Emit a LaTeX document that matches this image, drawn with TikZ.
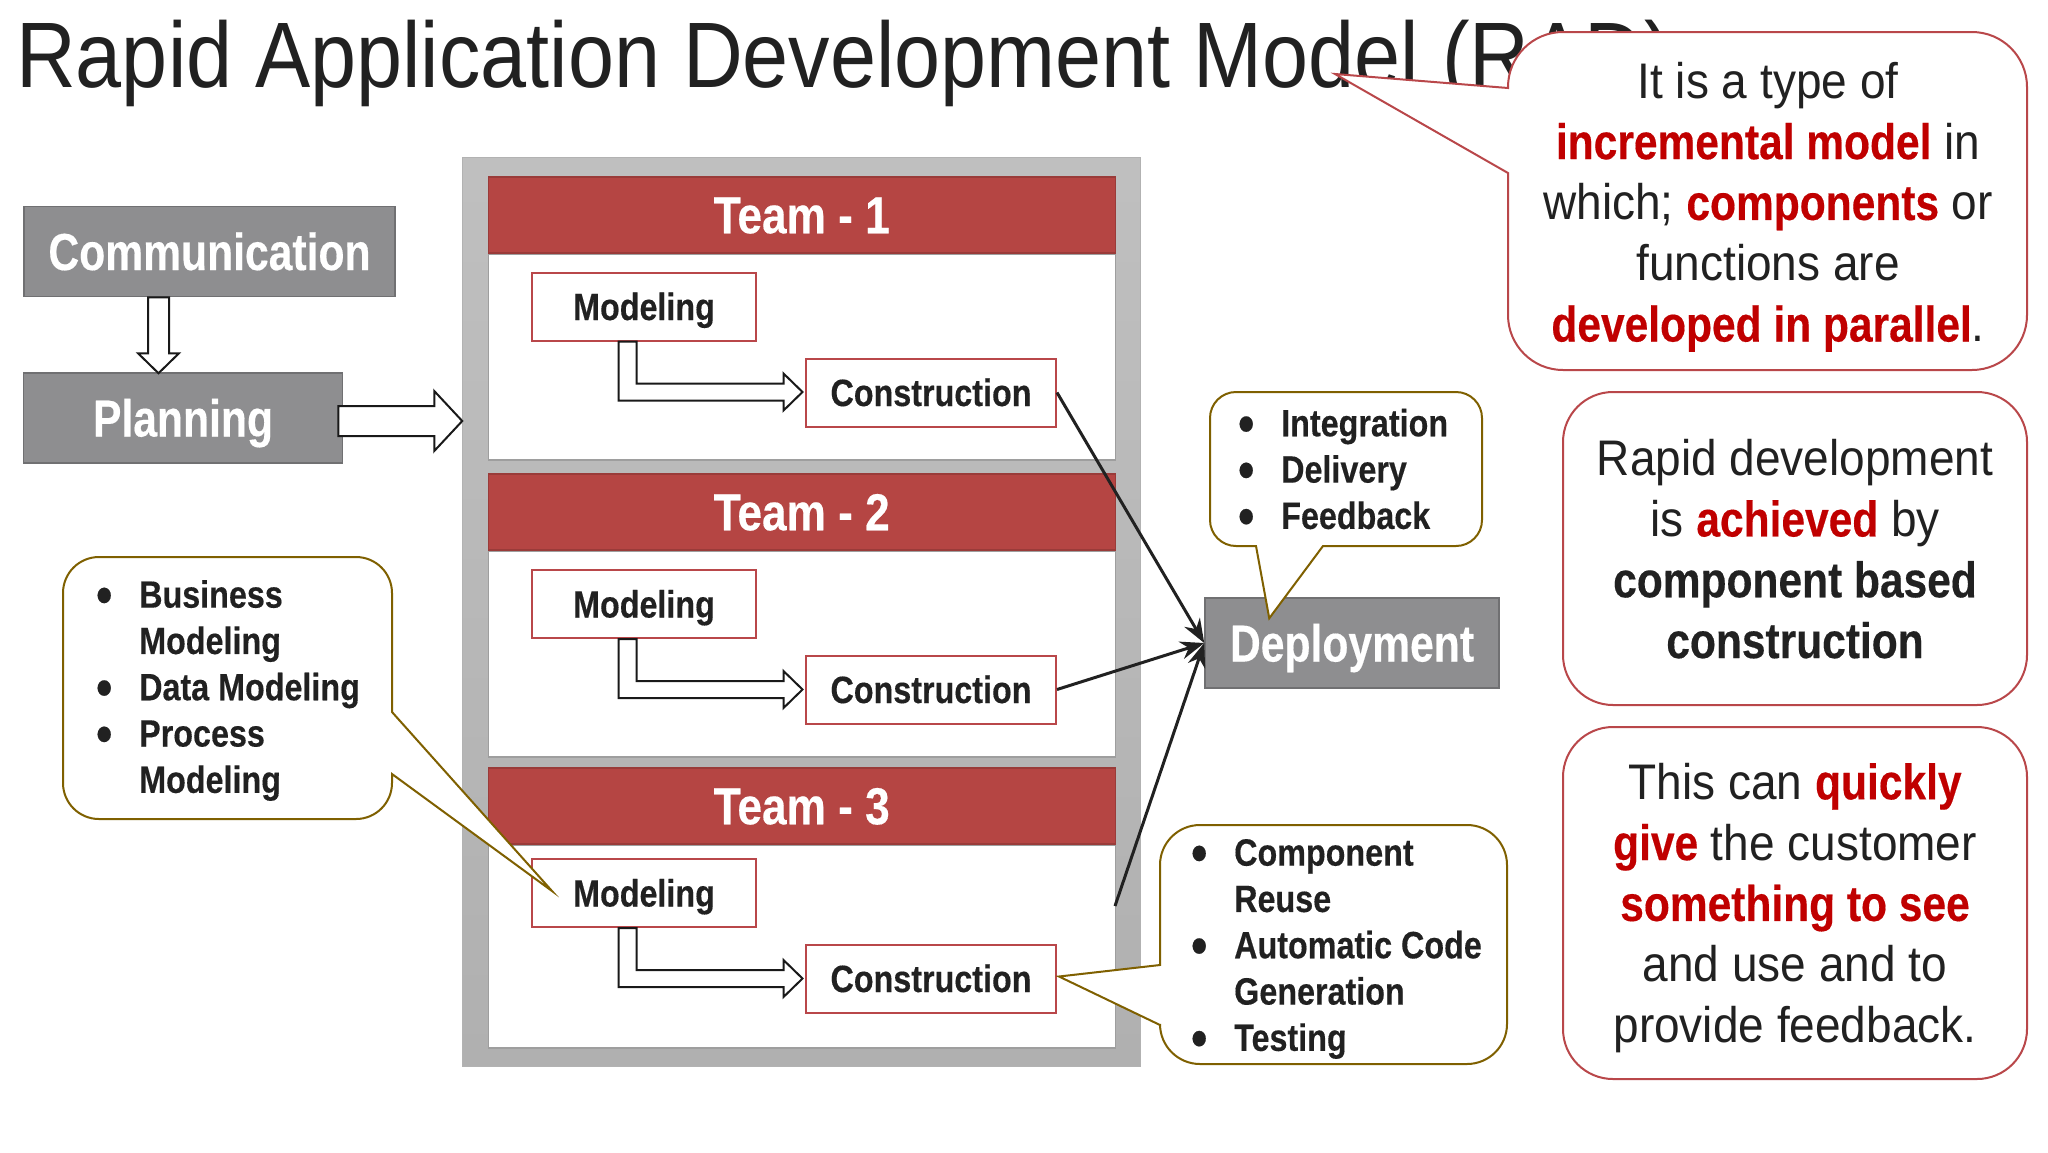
\documentclass[tikz,border=0pt]{standalone}
\usepackage{fontspec}
\setmainfont[FakeStretch=0.89,BoldFeatures={FakeStretch=0.82,FakeBold=0.3}]{Liberation Sans}
\newfontfamily\callfont[FakeStretch=0.92,BoldFeatures={FakeStretch=0.85,FakeBold=0.3}]{Liberation Sans}
\usetikzlibrary{calc,arrows.meta}
\definecolor{ink}{HTML}{212121}
\definecolor{redtxt}{HTML}{C00000}
\definecolor{redfill}{HTML}{B54543}
\definecolor{redline}{HTML}{B9474A}
\definecolor{brownline}{HTML}{7F6000}
\definecolor{grayfill}{HTML}{8E8E90}
\definecolor{grayline}{HTML}{707072}
\newcommand{\rd}[1]{\textcolor{redtxt}{\bfseries #1}}
\newcommand{\bl}{\leavevmode\llap{\makebox[43pt][l]{\smash{\raisebox{-5.6pt}{\fontsize{54}{46}\selectfont\textbullet}}}}}
\tikzset{
  graybox/.style={draw=grayline,fill=grayfill,line width=1.5pt,inner sep=0pt,text=white,text height=37pt,text depth=0pt,font=\fontsize{52}{60}\selectfont\bfseries},
  panel/.style={draw=black!38,fill=white,line width=1.5pt,inner sep=0pt,anchor=north west,minimum width=627pt},
  header/.style={draw=redfill!85!black,fill=redfill,line width=1.5pt,inner sep=0pt,anchor=north west,minimum width=627pt,minimum height=76pt,text=white,text height=37pt,text depth=0pt,font=\callfont\fontsize{52}{60}\selectfont\bfseries},
  stage/.style={draw=redline,fill=white,line width=2pt,inner sep=0pt,minimum height=68pt,text=ink,text height=27pt,text depth=0pt,font=\callfont\fontsize{38}{44}\selectfont\bfseries},
  hollow/.style={draw=black!90,fill=white,line width=2pt,line join=miter},
  flow/.style={draw=ink,line width=3pt,-{Stealth[length=24pt,width=18pt]}},
  redcall/.style={draw=redline,fill=white,line width=2pt},
  browncall/.style={draw=brownline,fill=white,line width=2pt},
  bigtext/.style={inner sep=0pt,align=center,text=ink,font=\callfont\fontsize{50}{60.8}\selectfont},
  listtext/.style={inner sep=0pt,align=left,anchor=west,text=ink,font=\callfont\fontsize{38}{46.3}\selectfont\bfseries},
}
\begin{document}
\begin{tikzpicture}[x=1pt,y=-1pt]
\useasboundingbox (0,0) rectangle (2048,1152);
\fill[white] (0,0) rectangle (2048,1152);
% title
\node[anchor=base west,inner sep=0pt,text=ink,font=\fontsize{93}{100}\selectfont] (title) at (16,87) {Rapid Application Development Model (RAD)};
% grey boxes
\node[graybox,minimum width=371pt,minimum height=90pt] (comm) at (209.5,251.5) {Communication};
\node[graybox,minimum width=319pt,minimum height=90pt] (plan) at (183,418) {Planning};
\node[graybox,minimum width=294pt,minimum height=90pt] (dep) at (1352,643) {Deployment};
% hollow arrows
\draw[hollow] ($(comm.south)+(-61.5,0)$) -- ++(0,56) -- ++(-10,0) -- ++(20.5,20) -- ++(20.5,-20) -- ++(-10,0) -- ++(0,-56) -- cycle;
% team frame
\node[draw=black!30,top color=black!25,bottom color=black!31,line width=1pt,inner sep=0pt,minimum width=678pt,minimum height=909pt,anchor=north west] (frame) at (462,157) {};
\draw[hollow] (plan.east) ++(-5,-12) -- ++(96,0) -- ++(0,-15) -- ++(28,30) -- ++(-28,30) -- ++(0,-15) -- ++(-96,0) -- cycle;
% team panels
\node[panel,minimum height=206pt] (p1) at (487.5,253) {};
\node[header] (h1) at (487.5,176) {Team - 1};
\node[panel,minimum height=206pt] (p2) at (487.5,550) {};
\node[header] (h2) at (487.5,473) {Team - 2};
\node[panel,minimum height=203pt] (p3) at (487.5,844) {};
\node[header] (h3) at (487.5,767) {Team - 3};
% stages
\node[stage,minimum width=224pt] (m1) at (644,306.5) {Modeling};
\node[stage,minimum width=250pt] (c1) at (931,392.5) {Construction};
\node[stage,minimum width=224pt] (m2) at (644,604) {Modeling};
\node[stage,minimum width=250pt] (c2) at (931,689.5) {Construction};
\node[stage,minimum width=224pt] (m3) at (644,893) {Modeling};
\node[stage,minimum width=250pt] (c3) at (931,978.5) {Construction};
% elbow arrows
\foreach \m in {m1,m2,m3}{
  \draw[hollow] ($(\m.south)+(-25.5,0)$) -- ++(0,59) -- ++(165,0) -- ++(0,10) -- ++(19,-18.5) -- ++(-19,-18.5) -- ++(0,10) -- ++(-147,0) -- ++(0,-42) -- cycle;
}
% flows
\coordinate (p3out) at ($(p3.north east)+(-1,62)$);
\draw[flow] (c1.east) -- (dep.west);
\draw[flow] (c2.east) -- (dep.west);
\draw[flow] (p3out) -- (dep.west);
% brown callouts
\coordinate (tipdep) at ($(dep.north west)+(65,21)$);
\draw[browncall,rounded corners=26pt] (1346,392) -- (1482,392) -- (1482,546) [sharp corners] -- (1323,546) -- (tipdep) -- (1256,546) [rounded corners=26pt] -- (1210,546) -- (1210,392) -- cycle;
\node[listtext] (ltop) at (1281,469) {\bl Integration\\\bl Delivery\\\bl Feedback};
\coordinate (tipm) at ($(m3.west)+(21,-2)$);
\draw[browncall,rounded corners=36pt] (230,557) -- (392,557) [sharp corners] -- (392,712) -- (tipm) -- (392,774) [rounded corners=36pt] -- (392,819) -- (63,819) -- (63,557) -- cycle;
\node[listtext] (lleft) at (139,690.5) {\bl Business\\Modeling\\\bl Data Modeling\\\bl Process\\Modeling};
\coordinate (tipc) at ($(c3.east)+(2,-2)$);
\draw[browncall,rounded corners=40pt] (1330,825) -- (1507,825) -- (1507,1064) -- (1160,1064) [sharp corners] -- (1160,1025) -- (tipc) -- (1160,965) [rounded corners=40pt] -- (1160,825) -- cycle;
\node[listtext] (lbot) at (1234,949) {\bl Component\\Reuse\\\bl Automatic Code\\Generation\\\bl Testing};
% red callouts
\coordinate (tiptitle) at (1335,74);
\draw[redcall,rounded corners=55pt] (1770,32) -- (2027,32) -- (2027,370) -- (1508,370) [sharp corners] -- (1508,173) -- (tiptitle) -- (1508,88) [rounded corners=55pt] -- (1508,32) -- cycle;
\node[bigtext] (n1) at (1768,207) {It is a type of\\\rd{incremental model} in\\which; \rd{components} or\\functions are\\\rd{developed in parallel}.};
\draw[redcall,rounded corners=50pt] (1563,392) rectangle (2027,705);
\node[bigtext] (n2) at (1795,549) {Rapid development\\is \rd{achieved} by\\\textbf{component based}\\\textbf{construction}};
\draw[redcall,rounded corners=50pt] (1563,727) rectangle (2027,1079);
\node[bigtext] (n3) at (1795,908) {This can \rd{quickly}\\\rd{give} the customer\\\rd{something to see}\\and use and to\\provide feedback.};
\end{tikzpicture}
\end{document}
